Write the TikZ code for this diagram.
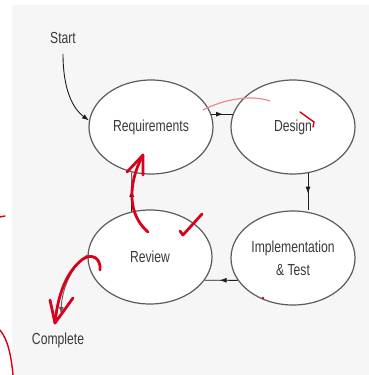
\documentclass[tikz,border=0pt]{standalone}
\usepackage{fontspec}
\setmainfont{Liberation Sans}
\newfontfamily\labelfont[FakeStretch=0.76]{Liberation Sans}
\usetikzlibrary{decorations.markings,arrows.meta,shapes.geometric,calc}
\definecolor{paper}{HTML}{F6F6F6}
\definecolor{rim}{HTML}{5C5C5C}
\definecolor{ink}{HTML}{1E1E1E}
\definecolor{txt}{HTML}{3A3A3A}
\definecolor{pen}{HTML}{D8001C}
\definecolor{pinkpen}{HTML}{EC8896}
\begin{document}
\begin{tikzpicture}[x=1pt,y=-1pt,
  phase/.style={ellipse, draw=rim, line width=1.2pt, fill=white,
    minimum width=124pt, minimum height=94pt, inner sep=0pt,
    text=txt, font=\labelfont\fontsize{16}{23}\selectfont, align=center},
  lbl/.style={text=txt, inner sep=0pt, font=\labelfont\fontsize{16}{20}\selectfont},
  flow/.style={draw=ink, line width=0.9pt},
  tipend/.style={-{Latex[length=7pt,width=5pt]}},
  midtip/.style={postaction={decorate},
    decoration={markings, mark=at position 0.55 with {\arrow{Latex[length=7pt,width=5pt]}}}},
  redstroke/.style={draw=pen, line width=2.8pt, line cap=round, line join=round},
  thinstroke/.style={draw=pen, line width=1.4pt, line cap=round},
]
\useasboundingbox (0,0) rectangle (369,375);
% sheet background
\fill[white] (0,0) rectangle (369,375);
\fill[paper] (12,5) rectangle (369,375);

% phases of the cycle
\node[phase] (req)    at (151,127) {Requirements};
\node[phase] (design) at (293,127) {Design};
\node[phase] (review) at (150,257) {Review};
\node[phase] (impl)   at (293,258) {Implementation\\\& Test};

% entry and exit labels
\node[lbl] (start)    at (63,38)  {Start};
\node[lbl] (complete) at (58,340) {Complete};
\coordinate (cend) at (61,314);

% connectors
\draw[flow,tipend,shorten <=10pt] (start.south) .. controls (63,88) and (72,108) .. (req.174);
\draw[flow,midtip] (req.12) -- (design.168);
\draw[flow,midtip] (design.-72) -- (design.-72 |- impl.north);
\draw[flow,midtip] (impl.202) -- (review.-23);
\draw[flow,midtip] (review.112) -- (req.-113);
\draw[flow,tipend,draw=rim] (review.178) .. controls (72,266) and (62,288) .. (cend);

% hand-drawn red annotations
\draw[draw=pinkpen, line width=1.2pt, line cap=round] (203,110) .. controls (222,100) and (250,94) .. (270,101);
\draw[thinstroke] (300,112) -- (314,122) -- (313,127);
\draw[redstroke] (148,232) .. controls (128,215) and (127,185) .. (143,155);
\draw[redstroke] (127,172) -- (143,155) -- (143,175);
\draw[redstroke] (180,231) -- (183,235) -- (202,214);
\draw[redstroke] (100,270) .. controls (101,258) and (92,253) .. (83,259)
  .. controls (68,270) and (58,292) .. (55,323);
\draw[redstroke] (50,300) -- (55,323) -- (73,298);
\draw[thinstroke] (0,217) -- (5,216);
\draw[thinstroke] (0,330) .. controls (8,340) and (11,355) .. (13,375);
\fill[pen] (263,298) circle (1.3pt);
\end{tikzpicture}
\end{document}
